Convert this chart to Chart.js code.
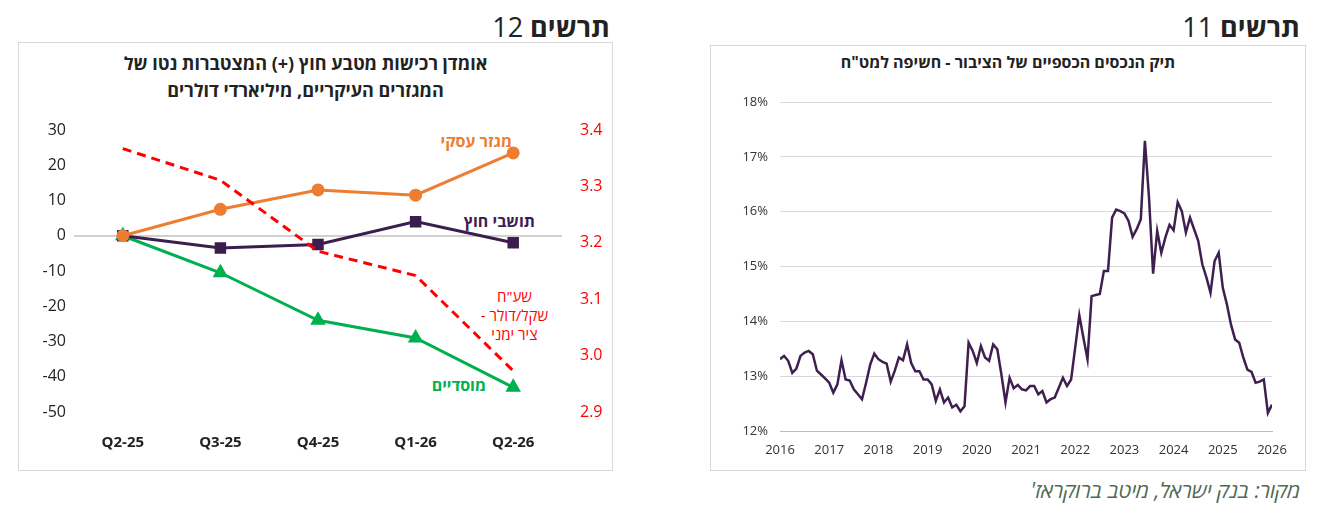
<!DOCTYPE html>
<html><head><meta charset="utf-8">
<script src="https://cdn.jsdelivr.net/npm/chart.js@4"></script>
<style>
body{margin:0;width:1318px;height:520px;background:#fff;font-family:"Open Sans","Noto Sans",sans-serif;position:relative;overflow:hidden}
.box{position:absolute;border:1px solid #d9d9d9;box-sizing:border-box}
.t{position:absolute;white-space:nowrap;direction:rtl}
canvas{position:absolute}
</style></head><body>
<div class="t" style="right:18px;top:8px;font-size:27px;color:#222"><b>תרשים</b> 11</div>
<div class="t" style="right:708px;top:8px;font-size:27px;color:#222"><b>תרשים</b> 12</div>
<div class="box" style="left:18px;top:42px;width:595px;height:429px"></div>
<div class="box" style="left:710px;top:45px;width:596px;height:426px"></div>
<div class="t" style="left:710px;width:596px;top:51px;text-align:center;font-weight:bold;font-size:16px;color:#222">תיק הנכסים הכספיים של הציבור - חשיפה למט"ח</div>
<div class="t" style="left:18px;width:575px;top:50px;text-align:center;font-weight:bold;font-size:18px;line-height:27px;color:#222">אומדן רכישות מטבע חוץ (+) המצטברות נטו של<br>המגזרים העיקריים, מיליארדי דולרים</div>
<div class="t" style="right:806px;top:130px;font-size:16px;font-weight:bold;color:#ed7d31">מגזר עסקי</div>
<div class="t" style="right:783px;top:210px;font-size:16px;font-weight:bold;color:#3b1e4e">תושבי חוץ</div>
<div class="t" style="right:832px;top:374px;font-size:16px;font-weight:bold;color:#00b050">מוסדיים</div>
<div class="t" style="right:770px;top:287px;font-size:15px;line-height:19px;color:#ff0000;text-align:center">שע"ח<br>שקל/דולר -<br>ציר ימני</div>
<div class="t" style="right:18px;top:476px;font-size:21px;font-style:italic;color:#4f6a55">מקור: בנק ישראל, מיטב ברוקראז'</div>
<canvas id="c1" style="left:18px;top:42px;width:595px;height:429px" width="595" height="429"></canvas>
<canvas id="c2" style="left:710px;top:45px;width:596px;height:426px" width="596" height="426"></canvas>
<script>
const quarters=["Q2-25","Q3-25","Q4-25","Q1-26","Q2-26"];
const business=[0,7.5,13,11.5,23.5];
const foreignRes=[0,-3.5,-2.5,4,-2];
const institutional=[0,-10.5,-24,-29,-43];
const shekel=[3.367,3.311,3.185,3.142,2.973];
const exposureStartYear=2016;
const exposure=[13.31,13.37,13.28,13.06,13.14,13.37,13.43,13.46,13.40,13.10,13.03,12.96,
12.88,12.70,12.85,13.29,12.94,12.92,12.76,12.67,12.58,12.88,13.21,13.41,
13.31,13.26,13.23,12.90,13.10,13.34,13.29,13.58,13.24,13.09,13.09,12.94,
12.94,12.85,12.55,12.76,12.52,12.61,12.43,12.48,12.36,12.45,13.61,13.46,
13.24,13.55,13.34,13.28,13.58,13.49,13.03,12.52,12.97,12.78,12.84,12.76,
12.74,12.82,12.82,12.67,12.73,12.52,12.58,12.61,12.79,12.97,12.82,12.94,
13.52,14.11,13.70,13.31,14.46,14.48,14.50,14.92,14.92,15.89,16.04,16.01,
15.97,15.83,15.54,15.68,15.86,17.29,16.26,14.87,15.65,15.25,15.53,15.76,
15.66,16.17,16.01,15.62,15.89,15.68,15.47,15.04,14.80,14.52,15.10,15.25,
14.61,14.31,13.94,13.67,13.61,13.34,13.12,13.08,12.88,12.90,12.94,12.33,12.48];
const yearTicks=[2016,2017,2018,2019,2020,2021,2022,2023,2024,2025,2026];

Chart.defaults.font.family='"Open Sans","Noto Sans",sans-serif';
Chart.defaults.animation=false;

new Chart(document.getElementById('c1'),{type:'line',
data:{labels:quarters,datasets:[
{data:shekel,yAxisID:'y2',borderColor:'#ff0000',borderDash:[9,6],borderWidth:3,pointRadius:0,tension:0},
{data:business,borderColor:'#ed7d31',backgroundColor:'#ed7d31',borderWidth:3,pointRadius:5,pointStyle:'circle'},
{data:foreignRes,borderColor:'#3b1e4e',backgroundColor:'#3b1e4e',borderWidth:3,pointRadius:6,pointStyle:'rect'},
{data:institutional,borderColor:'#00b050',backgroundColor:'#00b050',borderWidth:3,pointRadius:6,pointStyle:'triangle'}]},
options:{responsive:false,layout:{padding:{top:88,bottom:0,left:0,right:0}},
plugins:{legend:{display:false},tooltip:{enabled:false}},
scales:{
x:{offset:true,grid:{display:false},border:{display:false},ticks:{font:{size:15,weight:'bold'},color:'#222',padding:14},afterFit(s){s.height=59}},
y:{min:-50,max:30,ticks:{stepSize:10,font:{size:16},color:'#222',padding:8},border:{display:false},
 grid:{color:c=>c.tick.value===0?'#d0d0d0':'transparent',lineWidth:2,drawTicks:false},afterFit(s){s.width=56}},
y2:{position:'right',min:2.9,max:3.4,ticks:{stepSize:0.1,font:{size:16},color:'#ff0000',callback:v=>v.toFixed(1),padding:10},border:{display:false},grid:{display:false},afterFit(s){s.width=51}}
}}});

new Chart(document.getElementById('c2'),{type:'line',
data:{datasets:[{data:exposure.map((v,i)=>({x:exposureStartYear+i/12,y:v})),borderColor:'#3f1f4f',borderWidth:2.5,pointRadius:0,tension:0}]},
options:{responsive:false,layout:{padding:{top:57,right:34,left:0,bottom:0}},
plugins:{legend:{display:false},tooltip:{enabled:false}},
scales:{
x:{type:'linear',min:2016,max:2026,afterBuildTicks(s){s.ticks=yearTicks.map(v=>({value:v}))},
 ticks:{font:{size:13},color:'#333',callback:v=>String(v),maxRotation:0},grid:{display:false},border:{color:'#bbb'},afterFit(s){s.height=40}},
y:{min:12,max:18,ticks:{stepSize:1,font:{size:13},color:'#333',callback:v=>v+'%',padding:12},
 grid:{color:'#d9d9d9',drawTicks:false},border:{display:false},afterFit(s){s.width=70}}
}}});
</script></body></html>
